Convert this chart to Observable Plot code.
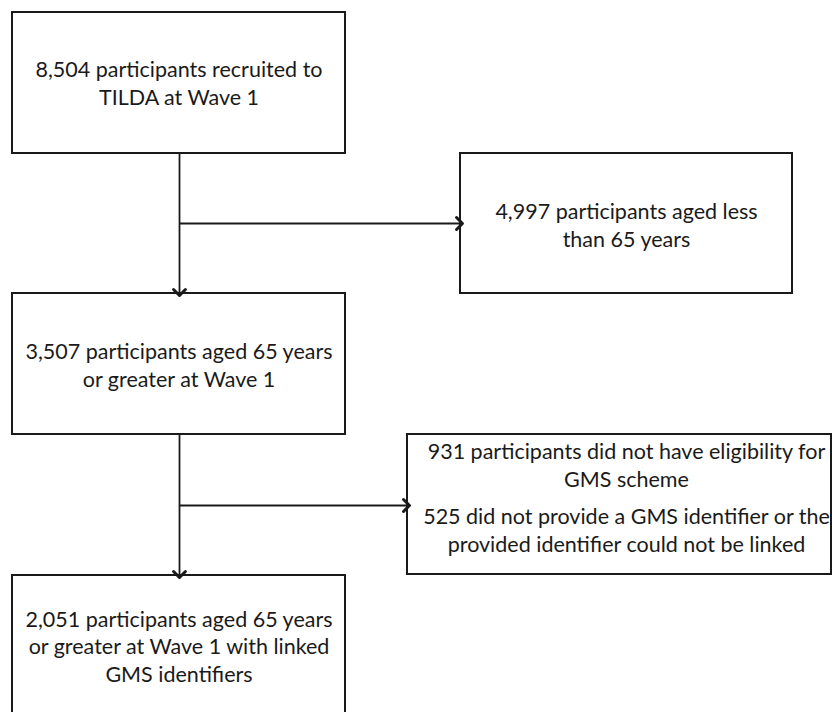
<!DOCTYPE html>
<html>
<head>
<meta charset="utf-8">
<script src="https://cdn.jsdelivr.net/npm/d3@7"></script>
<script src="https://cdn.jsdelivr.net/npm/@observablehq/plot@0.6"></script>
<style>
  html, body { margin: 0; padding: 0; background: #fff; }
  #chart svg { display: block; }
</style>
</head>
<body>
<div id="chart"></div>
<script>
// Flowchart content
const boxIds = ["recruited", "under65", "aged65", "excluded", "linked"];
const boxLabels = [
  "8,504 participants recruited to\nTILDA at Wave 1",
  "4,997 participants aged less\nthan 65 years",
  "3,507 participants aged 65 years\nor greater at Wave 1",
  "",
  "2,051 participants aged 65 years\nor greater at Wave 1 with linked\nGMS identifiers"
];
const excludedParagraphs = [
  "931 participants did not have eligibility for\nGMS scheme",
  "525 did not provide a GMS identifier or the\nprovided identifier could not be linked"
];

// Layout (pixel coordinates of the diagram)
const boxX1 = [12, 460, 12, 407, 12];
const boxX2 = [345, 792, 345, 831, 345];
const boxY1 = [12, 153, 293, 434, 575];
const boxY2 = [153, 293, 434, 574, 716];
const labelY = [82, 224, 364, 0, 645];
const paraY = [464, 529];

const boxes = boxIds.map((id, i) => ({
  id, label: boxLabels[i], x1: boxX1[i], x2: boxX2[i], y1: boxY1[i], y2: boxY2[i],
  cx: (boxX1[i] + boxX2[i]) / 2, ty: labelY[i]
}));
const paras = excludedParagraphs.map((t, i) => ({ t, x: 626, y: paraY[i] }));

// connectors: main vertical flow and side branches
const spineX = 179;
const vlinks = [
  { x: spineX, y1: 153, y2: 292 },
  { x: spineX, y1: 434, y2: 574 }
];
const hlinks = [
  { y: 223, x1: spineX, x2: 459 },
  { y: 505, x1: spineX, x2: 406 }
];

const ink = "#1a1a1a";
const chart = Plot.plot({
  width: 832,
  height: 712,
  margin: 0,
  x: { domain: [0, 832], range: [0, 832], axis: null },
  y: { domain: [0, 712], range: [0, 712], axis: null },
  style: { fontFamily: "Lato, 'Open Sans', sans-serif", background: "#fff", overflow: "hidden" },
  marks: [
    Plot.rect(boxes, { x1: "x1", x2: "x2", y1: "y1", y2: "y2", fill: "white", stroke: ink, strokeWidth: 2, clip: true }),
    Plot.link(vlinks, { x1: "x", x2: "x", y1: "y1", y2: "y2", stroke: ink, strokeWidth: 1.8, markerEnd: "arrow" }),
    Plot.link(hlinks, { x1: "x1", x2: "x2", y1: "y", y2: "y", stroke: ink, strokeWidth: 1.8, markerEnd: "arrow" }),
    Plot.text(boxes.filter(d => d.label), { x: "cx", y: "ty", text: "label", fontSize: 21.5, lineHeight: 1.3, fill: ink, textAnchor: "middle", lineAnchor: "middle" }),
    Plot.text(paras, { x: "x", y: "y", text: "t", fontSize: 21.5, lineHeight: 1.3, fill: ink, textAnchor: "middle", lineAnchor: "middle" })
  ]
});
// enlarge the arrowheads to match the reference
d3.select(chart).selectAll("marker").attr("markerWidth", 11).attr("markerHeight", 11);
document.getElementById("chart").appendChild(chart);
</script>
</body>
</html>
